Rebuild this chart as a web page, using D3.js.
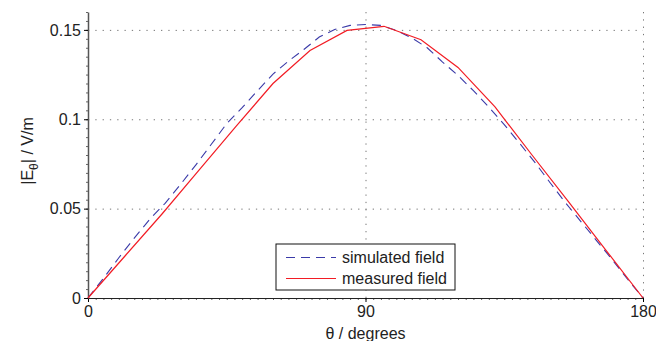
<!DOCTYPE html>
<html>
<head>
<meta charset="utf-8">
<script src="https://cdn.jsdelivr.net/npm/d3@7"></script>
<style>
  body { margin: 0; background: #fff; }
  text { font-family: "Liberation Sans", Arial, sans-serif; fill: #222; }
</style>
</head>
<body>
<div id="chart"></div>
<script>
// Simulated field (blue dashed), read every 5 degrees
const simAngles = [0, 5, 10, 15, 20, 25, 30, 35, 40, 45, 50, 55, 60, 65, 70, 75, 80, 85, 90,
  95, 100, 105, 110, 115, 120, 125, 130, 135, 140, 145, 150, 155, 160, 165, 170, 175, 180]
const simValues = [0, 0.011, 0.0225, 0.0335, 0.044, 0.053, 0.0635, 0.0745, 0.086, 0.0976, 0.1065,
  0.116, 0.1253, 0.1325, 0.139, 0.146, 0.1502, 0.1525, 0.153, 0.1525, 0.1497, 0.1455, 0.14,
  0.132, 0.1245, 0.116, 0.1068, 0.097, 0.0865, 0.0757, 0.0642, 0.053, 0.0425, 0.032, 0.0215, 0.0105, 0]

// Measured field (red solid), every 12 degrees
const measAngles = [0, 12, 24, 36, 48, 60, 72, 84, 96, 108, 120, 132, 144, 156, 168, 180]
const measValues = [0, 0.0235, 0.047, 0.0715, 0.096, 0.12, 0.1385, 0.1497, 0.152, 0.1445,
  0.129, 0.1069, 0.08, 0.0535, 0.0267, 0]

const xTicks = [0, 90, 180]
const yTicks = [0, 0.05, 0.1, 0.15]
const seriesNames = ['simulated field', 'measured field']

const width = 656
const height = 341
const margin = { top: 12, right: 13, bottom: 43, left: 88 }

const svg = d3.select('#chart')
  .append('svg')
  .attr('width', width)
  .attr('height', height)

const x = d3.scaleLinear().domain([0, 180]).range([margin.left, width - margin.right])
const y = d3.scaleLinear().domain([0, 0.16]).range([height - margin.bottom, margin.top])

// Grid (dotted)
const grid = svg.append('g').attr('stroke', '#777').attr('stroke-dasharray', '1.3,6').attr('stroke-width', 1)
grid.selectAll('.hg')
  .data(yTicks.slice(1))
  .enter().append('line')
  .attr('x1', x(0)).attr('x2', x(180))
  .attr('y1', d => y(d) + 0.5).attr('y2', d => y(d) + 0.5)
grid.selectAll('.vg')
  .data(xTicks.slice(1))
  .enter().append('line')
  .attr('x1', d => x(d) + 0.5).attr('x2', d => x(d) + 0.5)
  .attr('y1', y(0)).attr('y2', y(0.16))

// Minor ticks
svg.append('g')
  .attr('transform', `translate(0, ${y(0)})`)
  .call(d3.axisBottom(x).tickValues(d3.range(0, 180.1, 2.5)).tickSize(2).tickFormat(''))
  .call(g => g.select('.domain').remove())
  .selectAll('line').attr('stroke', '#666')
svg.append('g')
  .attr('transform', `translate(${x(0)}, 0)`)
  .call(d3.axisLeft(y).tickValues(d3.range(0, 0.1601, 0.005)).tickSize(2).tickFormat(''))
  .call(g => g.select('.domain').remove())
  .selectAll('line').attr('stroke', '#666')

// Major axes
const xAxis = svg.append('g')
  .attr('transform', `translate(0, ${y(0)})`)
  .call(d3.axisBottom(x).tickValues(xTicks).tickSize(4).tickSizeOuter(0).tickPadding(4))
xAxis.select('.domain').attr('stroke', '#222')
xAxis.selectAll('text').attr('font-size', '16px').attr('fill', '#222')
  .attr('font-family', '"Liberation Sans", Arial, sans-serif')

const yAxis = svg.append('g')
  .attr('transform', `translate(${x(0)}, 0)`)
  .call(d3.axisLeft(y).tickValues(yTicks).tickFormat(d => d === 0 ? '0' : String(d))
    .tickSize(4).tickSizeOuter(0).tickPadding(3))
yAxis.select('.domain').attr('stroke', '#555').attr('stroke-width', 1.5)
yAxis.selectAll('text').attr('font-size', '16px').attr('fill', '#222')
  .attr('font-family', '"Liberation Sans", Arial, sans-serif')

// Lines
const simLine = d3.line().x((d, i) => x(simAngles[i])).y(d => y(d))
const measLine = d3.line().x((d, i) => x(measAngles[i])).y(d => y(d))

svg.append('path')
  .datum(simValues)
  .attr('d', simLine)
  .attr('fill', 'none')
  .attr('stroke', '#3a3aa8')
  .attr('stroke-width', 1.1)
  .attr('stroke-dasharray', '9,6')

svg.append('path')
  .datum(measValues)
  .attr('d', measLine)
  .attr('fill', 'none')
  .attr('stroke', '#f21c24')
  .attr('stroke-width', 1.2)

// Axis labels
svg.append('text')
  .attr('x', x(90))
  .attr('y', 339)
  .attr('text-anchor', 'middle')
  .attr('font-size', '16px')
  .text('θ / degrees')

const yLabel = svg.append('text')
  .attr('transform', `translate(33, ${y(0.08) - 4}) rotate(-90)`)
  .attr('text-anchor', 'middle')
  .attr('font-size', '16px')
yLabel.append('tspan').text('|E')
yLabel.append('tspan').attr('dy', 5).attr('font-size', '12px').text('θ')
yLabel.append('tspan').attr('dy', -5).text('| / V/m')

// Legend
const legend = svg.append('g').attr('transform', 'translate(276, 244)')
legend.append('rect')
  .attr('width', 179).attr('height', 46)
  .attr('fill', '#fff').attr('stroke', '#111').attr('stroke-width', 1)
const legendStyles = [
  { stroke: '#3a3aa8', dash: '9,6' },
  { stroke: '#f21c24', dash: null }
]
seriesNames.forEach((name, i) => {
  const cy = 13.5 + i * 21
  legend.append('line')
    .attr('x1', 10).attr('x2', 60)
    .attr('y1', cy).attr('y2', cy)
    .attr('stroke', legendStyles[i].stroke)
    .attr('stroke-width', 1.2)
    .attr('stroke-dasharray', legendStyles[i].dash)
  legend.append('text')
    .attr('x', 66).attr('y', cy + 5.5)
    .attr('font-size', '16px')
    .text(name)
})
</script>
</body>
</html>
